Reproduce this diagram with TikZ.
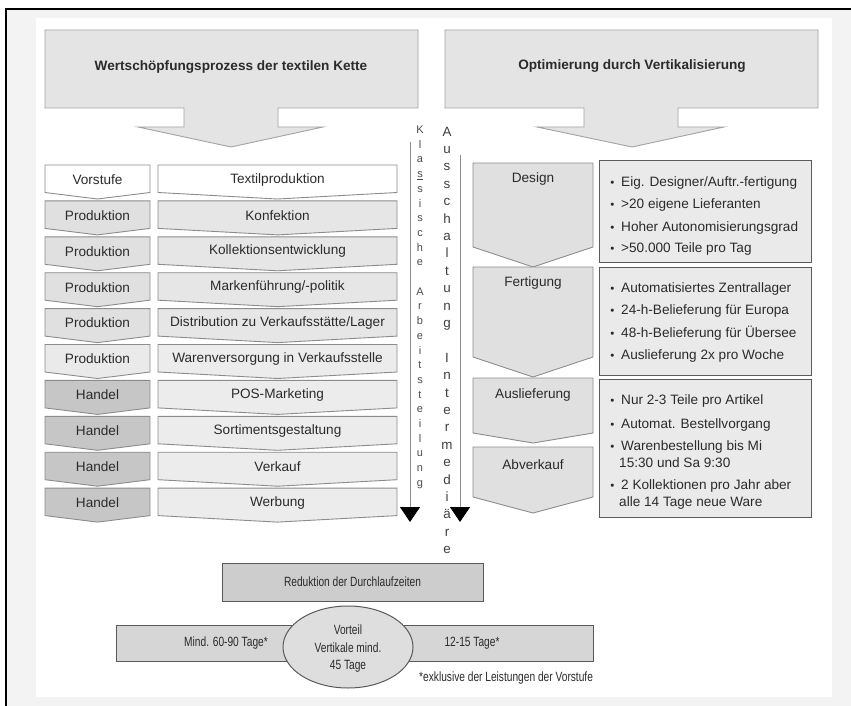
\documentclass[tikz,border=0pt]{standalone}
\usepackage{fontspec}
\setmainfont{Liberation Sans}
\newfontfamily\narrowsans{Liberation Sans}[FakeStretch=0.76]
\usetikzlibrary{arrows.meta}

\definecolor{panelgray}{HTML}{F3F3F3}
\definecolor{inkgray}{HTML}{2B2B2B}
\definecolor{edgegray}{HTML}{8C8C8C}
\definecolor{darkedge}{HTML}{5A5A5A}
\definecolor{arrowfill}{HTML}{E4E4E4}
\definecolor{prodfill}{HTML}{E0E0E0}
\definecolor{prodlight}{HTML}{EAEAEA}
\definecolor{handfill}{HTML}{C6C6C6}
\definecolor{midfill}{HTML}{E6E6E6}
\definecolor{midlight}{HTML}{ECECEC}
\definecolor{stagefill}{HTML}{E0E0E0}
\definecolor{notefill}{HTML}{EAEAEA}
\definecolor{redfill}{HTML}{CDCDCD}
\definecolor{barfill}{HTML}{D6D6D6}
\definecolor{ovalfill}{HTML}{DEDEDE}

% one row of the classic value chain: index, left label, left style, middle label, middle style
\newcommand\chainrow[5]{%
  \pgfmathsetmacro\rowtop{165+35.9*#1}%
  \pgfmathsetmacro\rowside{\rowtop+27.5}%
  \pgfmathsetmacro\rowtip{\rowtop+34}%
  \pgfmathsetmacro\rowtext{\rowtop+14.5}%
  \path[#3] (45,\rowtop) -- (150,\rowtop) -- (150,\rowside) -- (97.5,\rowtip) -- (45,\rowside) -- cycle;
  \node[chaintext] (l#1) at (97.5,\rowtext) {#2};
  \path[#5] (158,\rowtop) -- (397,\rowtop) -- (397,\rowside) -- (277.5,\rowtip) -- (158,\rowside) -- cycle;
  \node[chaintext] (m#1) at (277.5,\rowtext) {#4};
}

% a bulleted line in the note boxes: name, baseline, text
\newcommand\bulletline[3]{%
  \node[bullet] (#1b) at (612.5,#2) {•};
  \node[notetext] (#1) at (621,#2) {#3};
}
\newcommand\contline[3]{%
  \node[notetext] (#1) at (619,#2) {#3};
}

\begin{document}
\begin{tikzpicture}[x=1pt,y=-1pt,
  every node/.style={text=inkgray, inner sep=0pt},
  chev/.style={draw=edgegray, line width=0.9pt, line join=miter},
  plainchev/.style={chev, fill=white},
  prodchev/.style={chev, fill=prodfill},
  prodlchev/.style={chev, fill=prodlight},
  handchev/.style={chev, fill=handfill},
  midchev/.style={chev, fill=midfill},
  midlchev/.style={chev, fill=midlight},
  stagechev/.style={chev, fill=stagefill},
  bigarrow/.style={draw=edgegray!80, line width=0.9pt, fill=arrowfill, line join=miter},
  titletext/.style={font=\fontsize{13.6}{16}\selectfont\bfseries},
  chaintext/.style={font=\fontsize{13.6}{16}\selectfont},
  notebox/.style={draw=darkedge, line width=1pt, fill=notefill},
  notetext/.style={font=\fontsize{13.6}{16}\selectfont, anchor=base west},
  bullet/.style={font=\fontsize{11.5}{12}\selectfont, anchor=base},
  smallletter/.style={font=\fontsize{11}{12}\selectfont, text=black!70, anchor=base},
  bigletter/.style={font=\fontsize{13.4}{14}\selectfont, text=black!75, anchor=base},
  guide/.style={draw=edgegray, line width=0.9pt, -{Triangle[length=15pt,width=20pt,color=black]}},
  narrowtext/.style={font=\narrowsans\fontsize{13.4}{17.5}\selectfont},
]
\useasboundingbox (0,0) rectangle (851,706);

% page frame
\fill[white] (0,0) rectangle (851,706);
\fill[panelgray] (6,9) rectangle (851,706);
\fill[white] (36,18) rectangle (832,697);
\draw[black, line width=2.2pt] (6,706) -- (6,9) -- (851,9);

% headline arrows
\path[bigarrow] (45,30) -- (418,30) -- (418,108) -- (278,108) -- (278,127) -- (323,127)
  -- (231,147) -- (138,127) -- (184,127) -- (184,108) -- (45,108) -- cycle;
\node[titletext] (lefttitle) at (231,67) {Wertschöpfungsprozess der textilen Kette};
\path[bigarrow] (445,30) -- (818,30) -- (818,108) -- (678,108) -- (678,127) -- (724,127)
  -- (632,147) -- (537,127) -- (584,127) -- (584,108) -- (445,108) -- cycle;
\node[titletext] (righttitle) at (632,66) {Optimierung durch Vertikalisierung};

% classic value chain
\chainrow{0}{Vorstufe}{plainchev}{Textilproduktion}{plainchev}
\chainrow{1}{Produktion}{prodchev}{Konfektion}{midchev}
\chainrow{2}{Produktion}{prodchev}{Kollektionsentwicklung}{midchev}
\chainrow{3}{Produktion}{prodchev}{Markenführung/-politik}{midchev}
\chainrow{4}{Produktion}{prodchev}{Distribution zu Verkaufsstätte/Lager}{midchev}
\chainrow{5}{Produktion}{prodlchev}{Warenversorgung in Verkaufsstelle}{midlchev}
\chainrow{6}{Handel}{handchev}{POS-Marketing}{midlchev}
\chainrow{7}{Handel}{handchev}{Sortimentsgestaltung}{midlchev}
\chainrow{8}{Handel}{handchev}{Verkauf}{midlchev}
\chainrow{9}{Handel}{handchev}{Werbung}{midlchev}

% vertical captions with their guide arrows
\foreach \ch [count=\i from 0] in {K,l,a,\underline{s},s,i,s,c,h,e,{},A,r,b,e,i,t,s,t,e,i,l,u,n,g}
  \node[smallletter] (kl\i) at (420,133.5+14.7*\i) {\ch};
\foreach \ch [count=\i from 0] in {A,u,s,s,c,h,a,l,t,u,n,g,{},I,n,t,e,r,m,e,d,i,ä,r,e}
  \node[bigletter] (au\i) at (447,136+17.4*\i) {\ch};
\coordinate (klStart) at (410,142);
\coordinate (klEnd) at (410,522);
\coordinate (auStart) at (460,155);
\coordinate (auEnd) at (460,522);
\draw[guide] (klStart) -- (klEnd);
\draw[guide] (auStart) -- (auEnd);

% vertical chain
\path[stagechev] (473,163) -- (593,163) -- (593,247) -- (533,267) -- (473,247) -- cycle;
\node[chaintext] (design) at (533,179) {Design};
\path[stagechev] (473,267) -- (593,267) -- (593,357) -- (533,377) -- (473,357) -- cycle;
\node[chaintext] (fertigung) at (533,283) {Fertigung};
\path[stagechev] (473,378) -- (593,378) -- (593,433) -- (533,443) -- (473,433) -- cycle;
\node[chaintext] (auslieferung) at (533,395) {Auslieferung};
\path[stagechev] (473,447) -- (593,447) -- (593,497) -- (533,513) -- (473,497) -- cycle;
\node[chaintext] (abverkauf) at (533,465) {Abverkauf};

% notes to each stage
\draw[notebox] (599,160) rectangle (811,262);
\bulletline{n1}{186}{Eig. Designer/Auftr.-fertigung}
\bulletline{n2}{208}{>20 eigene Lieferanten}
\bulletline{n3}{231}{Hoher Autonomisierungsgrad}
\bulletline{n4}{252}{>50.000 Teile pro Tag}

\draw[notebox] (599,267) rectangle (811,375);
\bulletline{n5}{292}{Automatisiertes Zentrallager}
\bulletline{n6}{314}{24-h-Belieferung für Europa}
\bulletline{n7}{337}{48-h-Belieferung für Übersee}
\bulletline{n8}{359}{Auslieferung 2x pro Woche}

\draw[notebox] (599,379) rectangle (811,517);
\bulletline{n9}{404}{Nur 2-3 Teile pro Artikel}
\bulletline{n10}{428}{Automat. Bestellvorgang}
\bulletline{n11}{450}{Warenbestellung bis Mi}
\contline{n11c}{467}{15:30 und Sa 9:30}
\bulletline{n12}{489}{2 Kollektionen pro Jahr aber}
\contline{n12c}{506}{alle 14 Tage neue Ware}

% lead time comparison
\draw[draw=darkedge, line width=1pt, fill=redfill] (222,563) rectangle (483,601);
\node[narrowtext] (reduktion) at (352.5,582) {Reduktion der Durchlaufzeiten};
\draw[draw=darkedge, line width=1pt, fill=barfill] (116,625) rectangle (593,661);
\node[narrowtext] (classic) at (226,643) {Mind. 60-90 Tage*};
\node[narrowtext] (vertical) at (472,643) {12-15 Tage*};
\draw[draw=darkedge, line width=1pt, fill=ovalfill] (348,647) ellipse [x radius=65, y radius=41];
\node[narrowtext, align=center] (vorteil) at (348,649) {Vorteil\\Vertikale mind.\\45 Tage};
\node[narrowtext, anchor=base west] (footnote) at (419,681) {*exklusive der Leistungen der Vorstufe};
\end{tikzpicture}
\end{document}
